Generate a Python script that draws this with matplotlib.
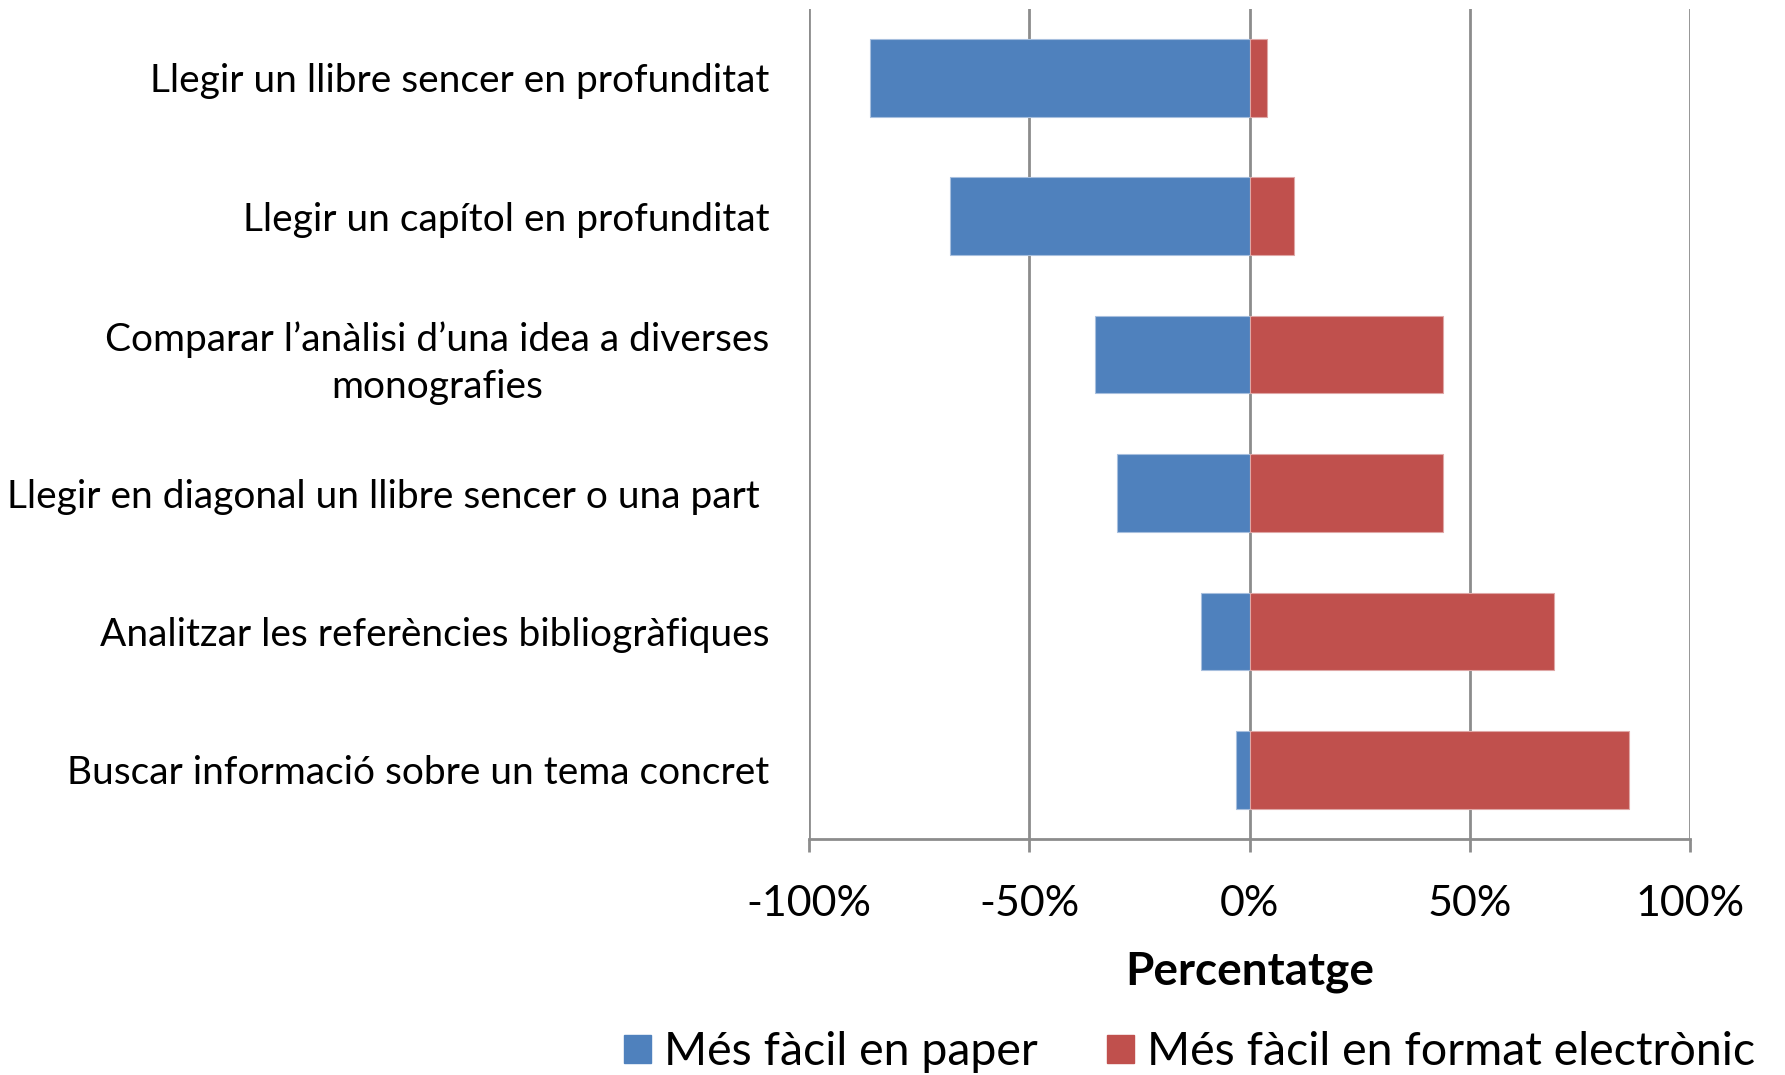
import matplotlib.pyplot as plt
from matplotlib.patches import Patch

plt.rcParams['font.family'] = ['Lato', 'DejaVu Sans']

# Data
activitats = [
    "Llegir un llibre sencer en profunditat",
    "Llegir un capítol en profunditat",
    "Comparar l’anàlisi d’una idea a diverses\nmonografies",
    "Llegir en diagonal un llibre sencer o una part ",
    "Analitzar les referències bibliogràfiques",
    "Buscar informació sobre un tema concret",
]
paper = [-86, -68, -35, -30, -11, -3]
electronic = [4, 10, 44, 44, 69, 86]
xticks = [-100, -50, 0, 50, 100]
xticklabels = ["-100%", "-50%", "0%", "50%", "100%"]

blue = "#4F81BD"
red = "#C0504D"
grid = "#8C8C8C"

fig = plt.figure(figsize=(17.85, 10.75), dpi=100)
ax = fig.add_axes([0.453, 0.2195, 0.494, 0.7725])

y = range(len(activitats))
ax.barh(y, paper, height=0.56, color=blue, edgecolor="#A7BFDE", linewidth=0.8, zorder=3)
ax.barh(y, electronic, height=0.56, color=red, edgecolor="#DFA7A6", linewidth=0.8, zorder=3)

ax.set_xlim(-100, 100)
ax.set_ylim(len(activitats) - 0.5, -0.5)
ax.set_xticks(xticks)
ax.set_xticklabels(xticklabels, fontsize=31)
ax.set_yticks(list(y))
ax.set_yticklabels(activitats, fontsize=28, ha="right", multialignment="center",
                   linespacing=1.35)

ax.grid(axis="x", color=grid, linewidth=2, zorder=0)
for s in ["top", "right", "left"]:
    ax.spines[s].set_visible(False)
ax.spines["bottom"].set_color(grid)
ax.spines["bottom"].set_linewidth(2)
ax.tick_params(axis="x", length=9, width=2, color=grid, pad=24)
ax.tick_params(axis="y", length=0, pad=28)

ax.set_xlabel("Percentatge", fontsize=33, fontweight="bold", labelpad=20)

handles = [Patch(color=blue, label="Més fàcil en paper"),
           Patch(color=red, label="Més fàcil en format electrònic")]
fig.legend(handles=handles, loc="center left", bbox_to_anchor=(0.3495, 0.021),
           ncol=2, frameon=False, fontsize=33.5, handlelength=0.58, handleheight=0.58,
           handletextpad=0.28, columnspacing=1.5, borderaxespad=0, borderpad=0)

fig.savefig("out.png", dpi=100)
